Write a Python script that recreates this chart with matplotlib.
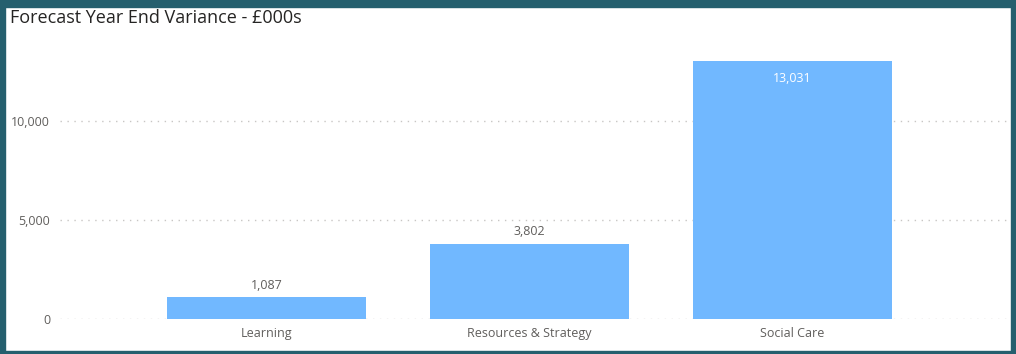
import matplotlib.pyplot as plt
from matplotlib.patches import Rectangle
from matplotlib.ticker import FuncFormatter

categories = ["Learning", "Resources & Strategy", "Social Care"]
values = [1087, 3802, 13031]
yticks = [0, 5000, 10000]

bar_color = "#71B8FF"
border_color = "#255F6E"
text_gray = "#605E5C"

plt.rcParams['font.family'] = ['Open Sans', 'DejaVu Sans']

fig = plt.figure(figsize=(10.16, 3.54), dpi=100)
fig.patch.set_facecolor("white")

# panel border
W, H = 1016, 354
for x, y, w, h in [(0, 0, 5, H), (W - 5, 0, 5, H), (0, H - 7, W, 7), (0, 0, W, 3)]:
    fig.patches.append(Rectangle((x / W, y / H), w / W, h / H, transform=fig.transFigure,
                                 color=border_color, zorder=10))

ax = fig.add_axes([60 / W, (H - 319) / H, (1007 - 60) / W, (319 - 45) / H])
xs = list(range(len(categories)))
ax.bar(xs, values, width=0.757, color=bar_color, zorder=2)
ax.set_xlim(-0.785, 2.816)
ax.set_ylim(0, 13838)

ax.set_yticks(yticks)
ax.yaxis.set_major_formatter(FuncFormatter(lambda v, p: f"{int(v):,}"))
ax.set_xticks(xs)
ax.set_xticklabels(categories)
ax.tick_params(length=0, labelsize=9, labelcolor=text_gray, pad=6)
ax.tick_params(axis="y", pad=7)
for s in ax.spines.values():
    s.set_visible(False)
ax.grid(axis="y", linestyle=(0, (1, 4)), color="#C8C6C4", linewidth=1, zorder=1)

for x, v in zip(xs, values):
    if v > 10000:
        ax.annotate(f"{v:,}", (x, v), xytext=(0, -17), textcoords="offset points",
                    ha="center", va="bottom", color="white", fontsize=9)
    else:
        ax.annotate(f"{v:,}", (x, v), xytext=(0, 4), textcoords="offset points",
                    ha="center", va="bottom", color=text_gray, fontsize=9)

fig.text(10 / W, 1 - 18 / H, "Forecast Year End Variance - £000s", fontsize=13,
         color="#252423", va="center", ha="left")

fig.savefig("out.png", dpi=100)
